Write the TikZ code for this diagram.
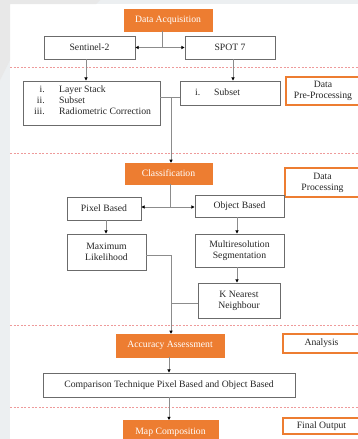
\documentclass[tikz,border=0pt]{standalone}
\usepackage{fontspec}
\setmainfont{Liberation Serif}
\usetikzlibrary{arrows.meta}
\definecolor{orng}{HTML}{ED7D31}
\definecolor{bord}{HTML}{6B6B6B}
\definecolor{conn}{HTML}{8C8C8C}
\definecolor{txt}{HTML}{262626}
\definecolor{dred}{HTML}{EE9A9A}
\definecolor{bgg}{HTML}{ECEFF1}
\begin{document}
\begin{tikzpicture}[x=1pt,y=-1pt,
  font=\fontsize{9.7}{11}\selectfont,
  box/.style={draw=bord,line width=0.9pt,fill=white,text=txt,inner sep=0pt,align=center,minimum width=#1},
  obox/.style={fill=orng,draw=orng,text=white,inner sep=0pt,minimum width=#1},
  sbox/.style={draw=orng,line width=1.4pt,fill=white,text=txt,inner sep=0pt,align=center,minimum width=#1},
  arr/.style={draw=conn,line width=0.8pt,-{Triangle[length=3.2pt,width=3.2pt,color=black]}},
  ln/.style={draw=conn,line width=0.8pt},
  sep/.style={draw=dred,line width=0.7pt,dash pattern=on 2pt off 1.6pt}]
\useasboundingbox (0,0) rectangle (358,439);
\fill[bgg] (0,0) rectangle (358,439);
\fill[white] (10,4) rectangle (358,439);
\fill[gray!18] (0,0) -- (100,0) -- (96,4) -- (10,4) -- (10,60) -- (0,80) -- cycle;

% separators
\draw[sep] (10,67) -- (358,67);
\draw[sep] (10,153) -- (358,153);
\draw[sep] (10,325) -- (358,325);
\draw[sep] (10,407) -- (358,407);

% nodes
\node[obox=88pt,minimum height=22pt] (da) at (168,20) {Data Acquisition};
\node[box=91pt,minimum height=23pt] (s2) at (89.5,47.5) {Sentinel-2};
\node[box=90pt,minimum height=23pt] (sp) at (230,47.5) {SPOT 7};
\node[box=137pt,minimum height=44pt] (ls) at (91.5,103) {};
\node[anchor=west,inner sep=0pt,text=txt] (lstxt) at (34,101) {\begin{tabular}{@{}r@{\hspace{14.5pt}}l@{}}i. & Layer Stack\\ ii. & Subset\\ iii. & Radiometric Correction\end{tabular}};
\node[box=100pt,minimum height=24pt] (sub) at (230,93) {};
\node[anchor=west,inner sep=0pt,text=txt] (subtxt) at (195,92) {i.\hspace{13.9pt}Subset};
\node[sbox=74pt,minimum height=28pt] (dpp) at (323,91) {Data\\Pre-Processing};

\node[obox=87pt,minimum height=21pt] (cl) at (168.5,173.5) {Classification};
\node[sbox=75pt,minimum height=29pt] (dp) at (322.5,182.5) {Data\\Processing};
\node[box=74pt,minimum height=23pt] (pb) at (104,208.5) {Pixel Based};
\node[box=89pt,minimum height=22pt] (ob) at (239.5,206) {Object Based};
\node[box=79pt,minimum height=36pt] (ml) at (106.5,252) {Maximum\\Likelihood};
\node[box=89pt,minimum height=33pt] (ms) at (239.5,250.5) {Multiresolution\\Segmentation};
\node[box=82pt,minimum height=35pt] (kn) at (239,300.5) {K Nearest\\Neighbour};

\node[obox=108pt,minimum height=23pt] (aa) at (170,345.5) {Accuracy Assessment};
\node[sbox=77pt,minimum height=19pt] (an) at (321.5,343.5) {Analysis};
\node[box=252pt,minimum height=24pt] (ct) at (169,385) {Comparison Technique Pixel Based and Object Based};
\node[obox=95pt,minimum height=25pt,anchor=north] (mc) at (170.5,420) {\raisebox{1.5pt}{Map Composition}};
\node[sbox=77pt,minimum height=16pt] (fo) at (321.5,426) {Final Output};

% junctions
\coordinate (j1) at (162,47.5);
\coordinate (j2) at (171,97);
\coordinate (j3) at (170,207);
\coordinate (j4) at (171,255);
\coordinate (j5) at (171,303);

% connectors
\draw[ln] (da.south -| j1) -- (j1);
\draw[arr] (j1) -- (s2.east);
\draw[arr] (j1) -- (sp.west);
\draw[arr] ([xshift=-3.5pt]s2.south) -- ([xshift=-3.5pt]s2.south |- ls.north);
\draw[arr] ([xshift=3pt]sp.south) -- ([xshift=3pt]sp.south |- sub.north);
\draw[ln] (ls.east |- j2) -- (j2);
\draw[ln] (sub.west |- j2) -- (j2);
\draw[arr] (j2) -- (j2 |- cl.north);

\draw[ln] (cl.south -| j3) -- (j3);
\draw[arr] (j3) -- (j3 -| pb.east);
\draw[arr] (j3) -- (j3 -| ob.west);
\draw[arr] ([xshift=2pt]pb.south) -- ([xshift=2pt]pb.south |- ml.north);
\draw[arr] ([xshift=-2.5pt]ob.south) -- ([xshift=-2.5pt]ob.south |- ms.north);
\draw[arr] ([xshift=-2.5pt]ms.south) -- ([xshift=-2.5pt]ms.south |- kn.north);
\draw[ln] (ml.east |- j4) -- (j4);
\draw[ln] (kn.west |- j5) -- (j5);
\draw[arr] (j4) -- (j4 |- aa.north);

\draw[arr] ([xshift=-1pt]aa.south) -- ([xshift=-1pt]aa.south |- ct.north);
\draw[arr] (ct.south) -- (ct.south |- mc.north);
\end{tikzpicture}
\end{document}
